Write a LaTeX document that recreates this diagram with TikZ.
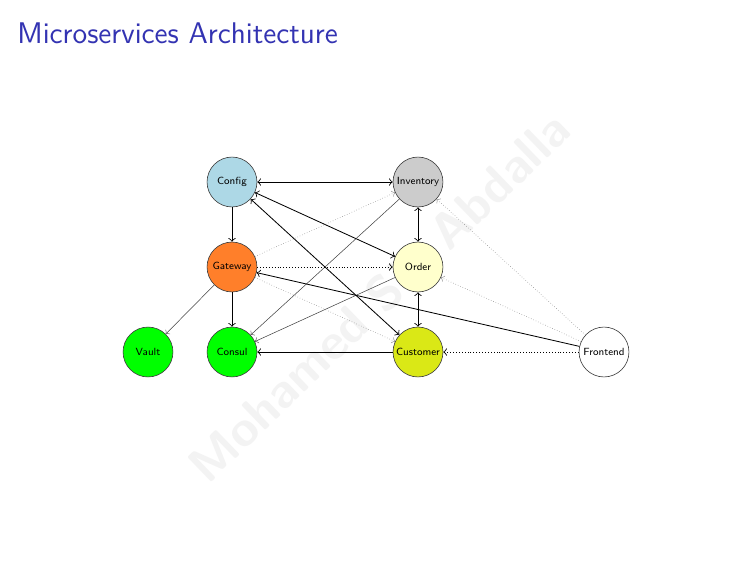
\documentclass[tikz,border=0pt]{standalone}
\usepackage{fontspec}
\definecolor{titleblue}{RGB}{51,51,178}
\definecolor{cfgcol}{RGB}{173,216,230}
\definecolor{invcol}{RGB}{204,204,204}
\definecolor{gwcol}{RGB}{255,127,42}
\definecolor{ordcol}{RGB}{255,255,204}
\definecolor{cuscol}{RGB}{218,232,22}
\definecolor{grncol}{RGB}{0,255,0}
\definecolor{wmcol}{RGB}{243,243,243}
\tikzset{
  svc/.style={circle, draw=black!75, line width=0.3pt, minimum size=0.845cm, inner sep=0pt,
    font=\sffamily\fontsize{5}{6}\selectfont},
  link/.style={->, line width=0.4pt},
  both/.style={<->, line width=0.4pt},
  faint/.style={->, line width=0.25pt, black!75},
  dot/.style={->, densely dotted, line width=0.4pt},
  faintdot/.style={->, densely dotted, line width=0.25pt, black!50}
}
\begin{document}
\begin{tikzpicture}[x=0.016933cm, y=-0.016933cm]
\useasboundingbox (0,0) rectangle (756,567);
\fill[white] (0,0) rectangle (756,567);
% watermark
\node[rotate=44, text=wmcol, font=\sffamily\bfseries\fontsize{24}{28}\selectfont, inner sep=0pt] (wm) at (379,297) {Mohamed Sid Abdalla};
% title
\node[anchor=base west, inner sep=0pt, text=titleblue, font=\sffamily\fontsize{14.4}{17}\selectfont] (title) at (17,43) {Microservices Architecture};
% nodes
\node[svc, fill=cfgcol] (config) at (232,182) {Config};
\node[svc, fill=invcol] (inventory) at (418,182) {Inventory};
\node[svc, fill=gwcol] (gateway) at (232,267) {Gateway};
\node[svc, fill=ordcol] (order) at (418,267) {Order};
\node[svc, fill=grncol] (vault) at (148,352) {Vault};
\node[svc, fill=grncol] (consul) at (232,352) {Consul};
\node[svc, fill=cuscol] (customer) at (418,352) {Customer};
\node[svc, fill=white] (frontend) at (604,352) {Frontend};
% connectors
\draw[both] (config) -- (inventory);
\draw[link] (config) -- (gateway);
\draw[link] (gateway) -- (consul);
\draw[faint] (gateway) -- (vault);
\draw[both] (order) -- (config);
\draw[both] (customer) -- (config);
\draw[faint] (inventory) -- (consul);
\draw[faint] (order) -- (consul);
\draw[link] (customer) -- (consul);
\draw[faintdot] (gateway) -- (inventory);
\draw[dot] (gateway) -- (order);
\draw[faintdot] (gateway) -- (customer);
\draw[link] (frontend) -- (gateway);
\draw[dot] (frontend) -- (customer);
\draw[faintdot] (frontend) -- (order);
\draw[faintdot] (frontend) -- (inventory);
\draw[both] (inventory) -- (order);
\draw[both] (order) -- (customer);
\end{tikzpicture}
\end{document}
